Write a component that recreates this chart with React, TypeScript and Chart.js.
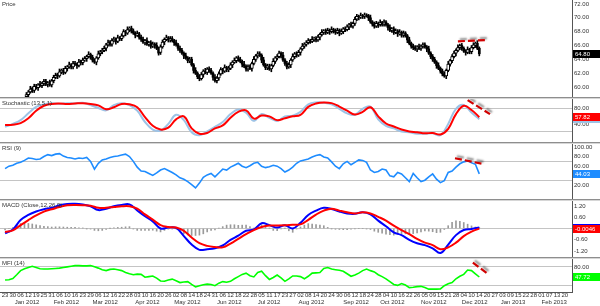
import React, { useEffect, useRef } from "react";
import { Chart, registerables } from "chart.js";

Chart.register(...registerables);

// ---------------- calendar / axis labels ----------------
// trading-day index 0 = 23 Dec 2011; a day tick every 4 trading days
const dayTickStep = 4;
const dayTickLabels = [
  "23", "30", "06", "12", "19", "25", "31", "06", "10", "16", "23", "29", "06", "12", "16", "22", "28",
  "03", "10", "16", "20", "26", "02", "08", "14", "18", "24", "31", "06", "12", "18", "22", "28",
  "05", "11", "17", "23", "27", "02", "08", "14", "20", "24", "30", "06", "12", "18", "24", "28",
  "04", "10", "16", "22", "26", "05", "09", "15", "21", "28", "04", "10", "14", "20", "27",
  "03", "09", "15", "22", "28", "01", "07", "13", "20",
];
const monthLabels = [
  "Jan 2012", "Feb 2012", "Mar 2012", "Apr 2012", "May 2012", "Jun 2012", "Jul 2012",
  "Aug 2012", "Sep 2012", "Oct 2012", "Nov 2012", "Dec 2012", "Jan 2013", "Feb 2013",
];
const monthStartDays = [5, 25, 45, 67, 87, 109, 130, 151, 174, 193, 214, 235, 255, 276];

// ---------------- price candles (daily, from trading day 11) ----------------
const candleFirstDay = 11;
const opens = [
  58.6, 58.9, 59.3, 59.8, 59.5, 60.1, 59.9, 60.4, 60.2, 60.5,
  60.8, 60.4, 60.6, 60.3, 60.9, 61.4, 61.8, 61.6, 62.2, 62.4,
  62.1, 62.7, 62.9, 63.2, 62.9, 63.4, 63.3, 63.1, 63.7, 63.5,
  63.9, 64.1, 64.4, 64.7, 64.3, 63.9, 63.6, 64.2, 64.8, 65.1,
  65.3, 65.6, 66.1, 66.5, 66.2, 66.7, 66.9, 66.6, 67.1, 67.0,
  67.4, 68.0, 67.8, 68.3, 68.5, 68.1, 67.8, 67.5, 67.7, 67.2,
  66.9, 66.5, 66.7, 66.2, 66.4, 65.9, 66.2, 66.0, 65.6, 65.0,
  65.8, 66.5, 66.9, 67.1, 66.8, 67.0, 66.7, 66.4, 66.1, 65.6,
  65.3, 64.9, 64.5, 64.2, 63.8, 64.0, 63.2, 62.4, 62.0, 61.5,
  61.2, 61.8, 62.3, 62.1, 62.6, 62.4, 62.0, 61.4, 60.9, 61.3,
  61.9, 62.5, 62.3, 62.8, 62.5, 62.7, 63.2, 63.6, 63.8, 64.2,
  64.0, 63.7, 63.3, 63.0, 62.6, 62.9, 62.7, 63.4, 64.0, 64.5,
  64.8, 64.6, 63.9, 63.2, 62.8, 63.0, 62.6, 63.1, 63.7, 64.2,
  64.4, 64.9, 64.6, 63.9, 63.4, 62.9, 63.2, 63.9, 64.4, 64.8,
  64.6, 65.0, 65.5, 65.9, 66.2, 66.4, 66.7, 66.6, 66.9, 67.0,
  66.8, 67.2, 67.6, 67.9, 68.1, 67.9, 68.2, 68.0, 68.3, 68.1,
  67.9, 68.2, 67.8, 68.0, 68.4, 68.3, 68.7, 69.0, 68.8, 69.2,
  69.8, 70.2, 70.1, 70.3, 70.2, 70.4, 70.3, 70.0, 69.4, 69.1,
  68.8, 69.2, 69.0, 69.3, 69.1, 69.4, 69.0, 68.6, 68.2, 68.4,
  67.9, 68.1, 67.7, 67.9, 67.5, 67.8, 67.4, 66.8, 66.3, 65.9,
  65.7, 65.5, 65.8, 65.6, 65.9, 66.1, 65.8, 65.5, 64.9, 64.4,
  64.0, 63.6, 63.1, 62.7, 62.3, 61.9, 61.6, 62.4, 63.3, 63.8,
  64.4, 64.9, 65.3, 65.7, 66.0, 65.6, 65.2, 65.0, 65.4, 65.1,
  65.7, 66.1, 66.3, 65.6,
];
const highs = [
  59.2, 59.5, 60.1, 60.0, 60.4, 60.4, 60.5, 60.8, 60.7, 61.1,
  61.1, 60.8, 61.0, 61.1, 61.7, 62.0, 62.0, 62.6, 62.6, 62.7,
  63.0, 63.1, 63.6, 63.4, 63.7, 63.7, 63.5, 64.0, 63.9, 64.2,
  64.4, 64.6, 65.1, 64.9, 64.6, 64.1, 64.4, 65.2, 65.3, 65.6,
  65.9, 66.3, 66.8, 66.7, 67.0, 67.2, 67.1, 67.5, 67.3, 67.7,
  68.3, 68.2, 68.7, 68.7, 68.8, 68.4, 68.0, 68.1, 67.9, 67.5,
  67.2, 66.9, 67.1, 66.6, 66.7, 66.5, 66.4, 66.4, 65.8, 66.1,
  66.8, 67.1, 67.5, 67.3, 67.3, 67.3, 66.9, 66.8, 66.3, 65.9,
  65.6, 65.1, 64.9, 64.4, 64.3, 64.3, 63.4, 62.8, 62.2, 61.8,
  62.1, 62.5, 62.7, 62.8, 62.9, 62.7, 62.2, 61.8, 61.5, 62.2,
  62.8, 62.7, 63.2, 63.0, 63.0, 63.5, 63.8, 64.2, 64.4, 64.5,
  64.3, 63.9, 63.7, 63.2, 63.2, 63.2, 63.6, 64.4, 64.7, 65.1,
  65.1, 64.8, 64.3, 63.4, 63.3, 63.3, 63.3, 64.1, 64.4, 64.7,
  65.2, 65.1, 65.0, 64.1, 63.7, 63.5, 64.1, 64.8, 65.0, 65.1,
  65.3, 65.7, 66.3, 66.4, 66.7, 67.0, 66.9, 67.3, 67.2, 67.3,
  67.5, 67.8, 68.3, 68.3, 68.4, 68.5, 68.4, 68.7, 68.5, 68.4,
  68.5, 68.4, 68.4, 68.6, 68.7, 69.0, 69.2, 69.4, 69.4, 70.1,
  70.5, 70.4, 70.7, 70.5, 70.7, 70.6, 70.5, 70.4, 69.6, 69.4,
  69.5, 69.4, 69.7, 69.5, 69.7, 69.6, 69.2, 69.0, 68.6, 68.7,
  68.4, 68.3, 68.3, 68.1, 68.1, 68.0, 67.6, 67.2, 66.5, 66.2,
  66.0, 66.0, 66.2, 66.1, 66.4, 66.4, 66.0, 65.9, 65.1, 64.7,
  64.3, 63.8, 63.5, 62.9, 62.6, 62.2, 62.6, 63.7, 64.0, 64.7,
  65.2, 65.5, 66.1, 66.2, 66.3, 65.8, 65.4, 65.8, 65.6, 66.0,
  66.4, 66.5, 66.7, 65.8,
];
const lows = [
  58.4, 58.5, 59.1, 59.2, 59.2, 59.7, 59.5, 60.0, 59.9, 60.2,
  60.2, 60.0, 60.1, 60.0, 60.6, 61.2, 61.2, 61.4, 61.9, 61.8,
  61.9, 62.3, 62.7, 62.6, 62.6, 63.1, 62.7, 62.9, 63.2, 63.2,
  63.7, 63.7, 64.2, 64.0, 63.6, 63.4, 63.2, 64.0, 64.5, 64.8,
  65.1, 65.2, 65.9, 65.9, 65.9, 66.5, 66.2, 66.4, 66.7, 66.7,
  67.2, 67.4, 67.6, 68.0, 67.8, 67.6, 67.1, 67.3, 66.9, 66.6,
  66.3, 66.1, 66.0, 65.9, 65.6, 65.7, 65.6, 65.4, 64.6, 64.7,
  65.6, 66.1, 66.7, 66.5, 66.5, 66.5, 66.0, 65.9, 65.3, 65.0,
  64.7, 64.1, 64.0, 63.5, 63.5, 63.0, 62.0, 61.8, 61.2, 60.9,
  61.0, 61.4, 61.9, 61.8, 62.1, 61.8, 61.0, 60.7, 60.6, 61.0,
  61.7, 61.9, 62.1, 62.2, 62.2, 62.5, 62.8, 63.4, 63.5, 63.7,
  63.5, 62.9, 62.8, 62.3, 62.3, 62.5, 62.3, 63.2, 63.7, 64.2,
  64.4, 63.5, 63.0, 62.5, 62.5, 62.4, 62.2, 62.9, 63.4, 63.9,
  64.2, 64.2, 63.7, 63.1, 62.6, 62.7, 62.8, 63.7, 64.1, 64.3,
  64.4, 64.6, 65.3, 65.6, 65.9, 66.2, 66.3, 66.4, 66.6, 66.5,
  66.6, 66.8, 67.4, 67.6, 67.6, 67.7, 67.6, 67.8, 67.8, 67.6,
  67.7, 67.4, 67.6, 67.7, 68.0, 68.1, 68.3, 68.6, 68.5, 68.9,
  69.6, 69.7, 69.9, 69.9, 69.9, 70.1, 69.6, 69.2, 68.8, 68.5,
  68.6, 68.6, 68.8, 68.8, 68.8, 68.8, 68.2, 68.0, 67.9, 67.6,
  67.7, 67.3, 67.5, 67.2, 67.2, 67.2, 66.4, 66.1, 65.6, 65.4,
  65.3, 65.1, 65.4, 65.3, 65.6, 65.6, 65.1, 64.7, 64.1, 63.7,
  63.4, 62.7, 62.5, 62.0, 61.6, 61.4, 61.2, 62.2, 63.0, 63.5,
  64.2, 64.5, 65.1, 65.4, 65.3, 65.0, 64.6, 64.8, 64.8, 64.8,
  65.5, 65.7, 65.4, 64.5,
];
const closes = [
  58.9, 59.3, 59.7, 59.5, 60.1, 59.9, 60.3, 60.2, 60.5, 60.8,
  60.4, 60.6, 60.3, 60.9, 61.4, 61.7, 61.6, 62.2, 62.4, 62.1,
  62.7, 62.9, 63.2, 62.9, 63.4, 63.3, 63.1, 63.6, 63.5, 63.9,
  64.1, 64.4, 64.7, 64.3, 63.9, 63.6, 64.2, 64.8, 65.1, 65.3,
  65.6, 66.1, 66.4, 66.2, 66.7, 66.9, 66.6, 67.1, 67.0, 67.4,
  68.0, 67.8, 68.3, 68.5, 68.1, 67.8, 67.5, 67.7, 67.2, 66.9,
  66.5, 66.7, 66.2, 66.4, 65.9, 66.2, 66.0, 65.6, 64.9, 65.8,
  66.5, 66.9, 67.1, 66.8, 67.0, 66.7, 66.4, 66.1, 65.6, 65.3,
  64.9, 64.5, 64.2, 63.8, 64.0, 63.2, 62.4, 62.0, 61.5, 61.2,
  61.8, 62.3, 62.1, 62.6, 62.4, 62.0, 61.4, 60.9, 61.3, 61.9,
  62.5, 62.3, 62.8, 62.5, 62.7, 63.2, 63.6, 63.8, 64.2, 64.0,
  63.7, 63.3, 63.0, 62.6, 62.9, 62.7, 63.4, 64.0, 64.5, 64.8,
  64.6, 63.9, 63.2, 62.8, 63.0, 62.6, 63.1, 63.7, 64.2, 64.4,
  64.9, 64.6, 63.9, 63.4, 62.9, 63.2, 63.9, 64.4, 64.8, 64.6,
  65.0, 65.5, 65.9, 66.2, 66.4, 66.7, 66.6, 66.9, 67.0, 66.8,
  67.2, 67.6, 67.9, 68.1, 67.9, 68.2, 68.0, 68.3, 68.1, 67.9,
  68.2, 67.8, 68.0, 68.4, 68.3, 68.7, 69.0, 68.8, 69.2, 69.8,
  70.2, 70.1, 70.3, 70.2, 70.4, 70.3, 70.0, 69.4, 69.1, 68.8,
  69.2, 69.0, 69.3, 69.1, 69.4, 69.0, 68.6, 68.2, 68.4, 67.9,
  68.1, 67.7, 67.9, 67.5, 67.8, 67.4, 66.8, 66.3, 65.9, 65.7,
  65.5, 65.8, 65.6, 65.9, 66.1, 65.8, 65.5, 64.9, 64.4, 64.0,
  63.6, 63.1, 62.7, 62.3, 61.9, 61.6, 62.4, 63.3, 63.8, 64.4,
  64.9, 65.3, 65.7, 66.0, 65.6, 65.2, 65.0, 65.4, 65.1, 65.7,
  66.1, 66.3, 65.6, 64.8,
];

// ---------------- indicators sampled every 4 trading days (from day 0) ----------------
const slowStep = 4;
const stochD = [
  37, 38, 42, 55, 75, 88, 93, 94, 93, 94,
  95, 93, 89, 79, 84, 93, 92, 84, 58, 35,
  25, 30, 52, 60, 28, 14, 16, 28, 36, 56,
  72, 76, 54, 62, 60, 50, 55, 60, 64, 85,
  94, 97, 95, 86, 75, 65, 72, 84, 60, 41,
  33, 25, 20, 18, 15, 16, 12, 27, 66, 88,
  77, 57.82,
];
const stochK = [
  32, 40, 50, 68, 85, 92, 95, 93, 95, 94,
  96, 90, 82, 76, 90, 95, 90, 75, 45, 25,
  22, 40, 64, 50, 18, 10, 20, 32, 45, 66,
  78, 70, 48, 66, 56, 48, 60, 62, 72, 92,
  97, 96, 92, 80, 68, 64, 80, 86, 52, 35,
  28, 20, 18, 14, 14, 15, 10, 40, 80, 90,
  70, 52.4,
];
const macdLine = [
  -0.25, -0.05, 0.45, 0.72, 0.9, 1.02, 1.1, 1.23, 1.3, 1.31,
  1.27, 1.18, 0.98, 1.05, 1.18, 1.25, 1.28, 0.96, 0.65, 0.38,
  0.0, 0.05, 0.03, -0.4, -0.85, -1.13, -1.1, -1.05, -0.9, -0.6,
  -0.38, -0.12, -0.05, 0.28, 0.18, 0.05, 0.18, 0.0, 0.3, 0.72,
  0.95, 1.1, 1.04, 0.9, 0.8, 0.78, 0.86, 0.75, 0.42, 0.12,
  -0.2, -0.35, -0.6, -0.78, -0.88, -1.05, -1.3, -0.85, -0.35, -0.08,
  -0.02, 0.05,
];
const macdSignal = [
  -0.18, -0.1, 0.18, 0.45, 0.7, 0.9, 1.02, 1.14, 1.23, 1.25,
  1.24, 1.21, 1.1, 1.1, 1.14, 1.18, 1.18, 1.06, 0.75, 0.47,
  0.18, 0.08, 0.05, -0.12, -0.48, -0.78, -0.92, -0.98, -1.0, -0.8,
  -0.55, -0.3, -0.08, 0.08, 0.16, 0.16, 0.17, 0.2, 0.22, 0.46,
  0.74, 0.95, 1.05, 0.95, 0.86, 0.8, 0.86, 0.8, 0.62, 0.42,
  0.15, -0.08, -0.3, -0.55, -0.75, -0.88, -1.1, -1.0, -0.75, -0.4,
  -0.16, -0.0046,
];

// ---------------- indicators sampled every 2 trading days (from day 0) ----------------
const fastStep = 2;
const rsi = [
  55, 60, 62, 66, 68, 72, 77, 76, 74, 75,
  80, 84, 82, 85, 86, 81, 78, 77, 75, 77,
  76, 78, 70, 54, 66, 73, 75, 78, 80, 81,
  83, 85, 80, 70, 58, 50, 49, 45, 41, 46,
  52, 55, 51, 47, 42, 36, 33, 28, 22, 15,
  25, 37, 42, 45, 38, 46, 54, 52, 58, 62,
  66, 60, 57, 61, 66, 68, 60, 57, 59, 62,
  60, 55, 48, 52, 58, 66, 71, 73, 75, 79,
  82, 84, 79, 77, 69, 60, 55, 65, 70, 63,
  68, 73, 72, 68, 52, 47, 49, 54, 52, 40,
  38, 47, 44, 36, 28, 45, 36, 28, 31, 38,
  44, 33, 26, 30, 47, 50, 58, 65, 69, 71,
  67, 64, 44.03,
];
const mfi = [
  38, 39, 43, 55, 68, 74, 78, 82, 78, 74,
  73, 73, 74, 75, 76, 78, 80, 82, 84, 84,
  83, 83, 84, 80, 76, 71, 68, 72, 73, 71,
  68, 62, 58, 55, 57, 56, 47, 49, 51, 44,
  35, 34, 38, 41, 36, 30, 32, 33, 24, 16,
  20, 23, 25, 24, 20, 28, 33, 31, 34, 42,
  49, 56, 60, 52, 48, 62, 66, 52, 40, 46,
  54, 45, 34, 42, 51, 51, 49, 42, 50, 60,
  61, 62, 75, 78, 73, 71, 69, 66, 58, 50,
  54, 60, 68, 73, 68, 64, 55, 49, 42, 33,
  24, 21, 27, 22, 14, 15, 17, 18, 14, 9,
  9, 9, 10, 20, 26, 30, 42, 50, 56, 70,
  68, 58, 47.72,
];
const macdHist = [
  -0.07, 0.0, 0.05, 0.18, 0.27, 0.28, 0.27, 0.24, 0.2, 0.16,
  0.12, 0.1, 0.08, 0.09, 0.09, 0.08, 0.07, 0.06, 0.06, 0.04,
  0.03, -0.01, -0.03, -0.1, -0.12, -0.1, -0.05, 0.01, 0.04, 0.06,
  0.07, 0.09, 0.1, -0.02, -0.1, -0.1, -0.1, -0.1, -0.09, -0.14,
  -0.18, -0.1, -0.03, -0.02, -0.02, -0.12, -0.28, -0.34, -0.37, -0.37,
  -0.35, -0.28, -0.18, -0.1, -0.07, 0.02, 0.1, 0.18, 0.2, 0.2,
  0.17, 0.18, 0.18, 0.1, 0.03, 0.12, 0.2, 0.1, 0.02, -0.1,
  -0.11, -0.02, 0.01, -0.12, -0.2, -0.02, 0.08, 0.18, 0.26, 0.24,
  0.21, 0.18, 0.15, 0.06, -0.01, -0.04, -0.05, -0.06, -0.06, -0.04,
  -0.02, 0.0, 0.0, -0.02, -0.05, -0.14, -0.2, -0.25, -0.3, -0.33,
  -0.35, -0.3, -0.27, -0.28, -0.3, -0.27, -0.23, -0.18, -0.13, -0.14,
  -0.17, -0.22, -0.2, -0.05, 0.15, 0.33, 0.41, 0.38, 0.32, 0.23,
  0.14, 0.08, 0.05,
];

// ---------------- trend-line annotations: [trading day, value] ----------------
const priceTrend = [[233, 66.6], [248, 66.8]];
const stochTrend = [[238, 103], [249.5, 66]];
const rsiTrend = [[231.5, 76.4], [246, 64.5]];
const mfiTrend = [[240.7, 93.2], [248, 59.5]];

// ---------------- axis ticks / levels ----------------
const priceTicks = [60, 62, 64, 66, 68, 70, 72];
const stochTicks = [40, 60, 80];
const stochLevels = [20, 80];
const rsiTicks = [20, 40, 60, 80, 100];
const rsiLevels = [30, 70];
const macdTicks = [-1.2, -0.6, 0, 0.6, 1.2];
const macdLevels = [0];
const mfiTicks = [80];
const mfiLevels = [20, 80];

// ---------------- layout ----------------
const X_MIN = -2.6;
const X_MAX = 291.7;
const AXIS_W = 28;
const FONT = '"Liberation Sans", Arial, sans-serif';
const PANELS = [
  { key: "price", top: 0, h: 97 },
  { key: "stoch", top: 99, h: 43 },
  { key: "rsi", top: 144, h: 55 },
  { key: "macd", top: 201, h: 56 },
  { key: "mfi", top: 259, h: 47 },
];
const SEPARATORS = [97, 142, 199, 257];

Chart.defaults.font.family = FONT;
Chart.defaults.font.size = 6;

const toPts = (vals: number[], step: number, start = 0) => vals.map((v, i) => ({ x: start + i * step, y: v }));
const trendPts = (arr: number[][]) => arr.map(([x, y]) => ({ x, y }));
const last = (a: number[]) => a[a.length - 1];

function yAxis(min: number, max: number, labelVals: number[], levelVals: number[], digits = 2) {
  return {
    type: "linear",
    position: "right",
    min,
    max,
    beginAtZero: false,
    afterFit: (s: any) => {
      s.width = AXIS_W;
      s.paddingTop = 0;
      s.paddingBottom = 0;
    },
    afterBuildTicks: (s: any) => {
      const vals = Array.from(new Set([...labelVals, ...levelVals])).sort((a, b) => a - b);
      s.ticks = vals.map((v) => ({ value: v }));
    },
    ticks: {
      autoSkip: false,
      padding: 2,
      color: "#333",
      font: { size: 6, family: FONT },
      callback: (v: number) => (labelVals.includes(v) ? v.toFixed(digits) : ""),
    },
    grid: {
      drawTicks: false,
      lineWidth: 1,
      color: (c: any) => (c.tick && levelVals.includes(c.tick.value) ? "#c4c4c4" : "rgba(0,0,0,0)"),
    },
    border: { display: true, color: "#555", width: 1 },
  };
}

const hiddenX = { type: "linear", min: X_MIN, max: X_MAX, offset: false, display: false, grid: { offset: false } };
const bottomX = {
  type: "linear",
  position: "bottom",
  min: X_MIN,
  max: X_MAX,
  offset: false,
  weight: 0,
  afterFit: (s: any) => {
    s.height = 7;
    s.paddingLeft = 0;
    s.paddingRight = 0;
  },
  afterBuildTicks: (s: any) => {
    s.ticks = dayTickLabels.map((_, i) => ({ value: i * dayTickStep }));
  },
  ticks: {
    autoSkip: false,
    maxRotation: 0,
    minRotation: 0,
    padding: 0,
    color: "#333",
    font: { size: 6, family: FONT },
    callback: (_v: number, i: number) => dayTickLabels[i],
  },
  grid: { display: false, drawTicks: false, offset: false },
  border: { display: true, color: "#555", width: 1 },
};
const monthX = {
  type: "linear",
  axis: "x",
  position: "bottom",
  min: X_MIN,
  max: X_MAX,
  offset: false,
  weight: 1,
  afterFit: (s: any) => {
    s.height = 7;
    s.paddingLeft = 0;
    s.paddingRight = 0;
  },
  afterBuildTicks: (s: any) => {
    s.ticks = monthStartDays.map((v) => ({ value: v }));
  },
  ticks: {
    autoSkip: false,
    maxRotation: 0,
    minRotation: 0,
    padding: 0,
    align: "start",
    color: "#333",
    font: { size: 6, family: FONT },
    callback: (_v: number, i: number) => monthLabels[i],
  },
  grid: { display: false, drawTicks: false },
  border: { display: false },
};

const shadowPlugin = {
  id: "trendShadow",
  beforeDatasetDraw(chart: any, args: any) {
    const ds = chart.data.datasets[args.index];
    if (ds.shadowed) {
      const ctx = chart.ctx;
      ctx.save();
      ctx.shadowColor = "rgba(0,0,0,0.45)";
      ctx.shadowBlur = 2;
      ctx.shadowOffsetX = 2;
      ctx.shadowOffsetY = -2;
    }
  },
  afterDatasetDraw(chart: any, args: any) {
    const ds = chart.data.datasets[args.index];
    if (ds.shadowed) chart.ctx.restore();
  },
};

const titlePlugin = (text: string) => ({
  id: "panelTitle",
  afterDraw(chart: any) {
    const ctx = chart.ctx;
    ctx.save();
    ctx.font = `6px ${FONT}`;
    ctx.fillStyle = "#333";
    ctx.textAlign = "left";
    ctx.textBaseline = "top";
    ctx.fillText(text, 2, chart.chartArea.top + 1);
    ctx.restore();
  },
});

const boxesPlugin = (items: { value: number; bg: string; fg: string; text: string }[]) => ({
  id: "valueBoxes",
  afterDraw(chart: any) {
    const ctx = chart.ctx;
    const ys = chart.scales.y;
    const left = chart.chartArea.right + 1;
    ctx.save();
    ctx.font = `6px ${FONT}`;
    ctx.textAlign = "left";
    ctx.textBaseline = "middle";
    for (const it of items) {
      const py = ys.getPixelForValue(it.value);
      ctx.fillStyle = it.bg;
      ctx.fillRect(left, Math.round(py) - 4, chart.width - left, 8);
      ctx.fillStyle = it.fg;
      ctx.fillText(it.text, left + 2, Math.round(py) + 0.5);
    }
    ctx.restore();
  },
});

const lineDs = (data: any[], color: string, width: number, tension: number, order: number) => ({
  type: "line",
  data,
  borderColor: color,
  borderWidth: width,
  pointRadius: 0,
  fill: false,
  tension,
  order,
});

const trendDs = (arr: number[][]) => ({
  type: "line",
  data: trendPts(arr),
  borderColor: "#d00000",
  borderWidth: 2.2,
  borderDash: [7, 3],
  pointRadius: 0,
  fill: false,
  order: 0,
  shadowed: true,
});

function makeChart(canvas: HTMLCanvasElement, datasets: any[], y: any, showX: boolean, title: string, boxes: any[]) {
  const scales: any = { x: showX ? bottomX : hiddenX, y };
  if (showX) scales.xm = monthX;
  return new Chart(canvas, {
    type: "line",
    data: { datasets },
    options: {
      responsive: false,
      maintainAspectRatio: false,
      animation: false,
      devicePixelRatio: 1,
      events: [],
      layout: { padding: 0 },
      plugins: { legend: { display: false }, tooltip: { enabled: false } },
      scales,
    } as any,
    plugins: [shadowPlugin, titlePlugin(title), boxesPlugin(boxes)],
  } as any);
}

export default function App() {
  const canvasRefs = useRef<(HTMLCanvasElement | null)[]>([]);

  useEffect(() => {
    const [cPrice, cStoch, cRsi, cMacd, cMfi] = canvasRefs.current as HTMLCanvasElement[];
    const days = closes.map((_, i) => candleFirstDay + i);
    const wick = days.map((d, i) => ({ x: d, y: [lows[i], highs[i]] }));
    const up = days.filter((_, i) => closes[i] >= opens[i]).map((d) => ({ x: d, y: [opens[d - candleFirstDay], closes[d - candleFirstDay]] }));
    const down = days.filter((_, i) => closes[i] < opens[i]).map((d) => ({ x: d, y: [opens[d - candleFirstDay], closes[d - candleFirstDay]] }));

    const charts: Chart[] = [];

    charts.push(
      makeChart(
        cPrice,
        [
          trendDs(priceTrend),
          { type: "bar", data: up, backgroundColor: "#ffffff", borderColor: "#000", borderWidth: 1, borderSkipped: false, barThickness: 3, grouped: false, order: 1 },
          { type: "bar", data: down, backgroundColor: "#000", borderWidth: 0, barThickness: 2, grouped: false, order: 2 },
          { type: "bar", data: wick, backgroundColor: "#000", borderWidth: 0, barThickness: 1, grouped: false, order: 3 },
        ],
        yAxis(58.55, 72.58, priceTicks, []),
        false,
        "Price",
        [{ value: last(closes), bg: "#000", fg: "#fff", text: last(closes).toFixed(2) }]
      )
    );

    charts.push(
      makeChart(
        cStoch,
        [
          trendDs(stochTrend),
          lineDs(toPts(stochD, slowStep), "#ff0000", 2, 0.4, 1),
          lineDs(toPts(stochK, slowStep), "#9dc3e6", 2, 0.4, 2),
        ],
        yAxis(-8, 106, stochTicks, stochLevels),
        false,
        "Stochastic (13,5,1)",
        [
          { value: last(stochK), bg: "#9dc3e6", fg: "#fff", text: last(stochK).toFixed(2) },
          { value: last(stochD), bg: "#ff0000", fg: "#fff", text: last(stochD).toFixed(2) },
        ]
      )
    );

    charts.push(
      makeChart(
        cRsi,
        [trendDs(rsiTrend), lineDs(toPts(rsi, fastStep), "#1e8cff", 1.6, 0, 1)],
        yAxis(-8, 106, rsiTicks, rsiLevels),
        false,
        "RSI (9)",
        [{ value: last(rsi), bg: "#1e8cff", fg: "#fff", text: last(rsi).toFixed(2) }]
      )
    );

    charts.push(
      makeChart(
        cMacd,
        [
          lineDs(toPts(macdSignal, slowStep), "#ff0000", 2, 0.4, 1),
          lineDs(toPts(macdLine, slowStep), "#0000ff", 2, 0.4, 2),
          { type: "bar", data: toPts(macdHist, fastStep), backgroundColor: "#9a9a9a", borderWidth: 0, barThickness: 1, grouped: false, order: 3 },
        ],
        yAxis(-1.51, 1.46, macdTicks, macdLevels),
        false,
        "MACD (Close,12,26,9)",
        [
          { value: last(macdLine), bg: "#0000ff", fg: "#fff", text: last(macdLine).toFixed(4) },
          { value: last(macdSignal), bg: "#ff0000", fg: "#fff", text: last(macdSignal).toFixed(4) },
        ]
      )
    );

    charts.push(
      makeChart(
        cMfi,
        [trendDs(mfiTrend), lineDs(toPts(mfi, fastStep), "#00ff00", 1.6, 0, 1)],
        yAxis(0, 105, mfiTicks, mfiLevels),
        true,
        "MFI (14)",
        [{ value: last(mfi), bg: "#00ff00", fg: "#fff", text: last(mfi).toFixed(2) }]
      )
    );

    return () => {
      charts.forEach((c) => c.destroy());
    };
  }, []);

  return (
    <div style={{ position: "absolute", left: 0, top: 0, width: 600, height: 306, background: "#fff", overflow: "hidden" }}>
      {PANELS.map((p, i) => (
        <canvas
          key={p.key}
          ref={(el) => {
            canvasRefs.current[i] = el;
          }}
          width={600}
          height={p.h}
          style={{ position: "absolute", left: 0, top: p.top, width: 600, height: p.h, display: "block" }}
        />
      ))}
      {SEPARATORS.map((t) => (
        <div
          key={t}
          style={{ position: "absolute", left: 0, top: t, width: 600, height: 2, background: "linear-gradient(#8e8e8e 50%, #d6d6d6 50%)" }}
        />
      ))}
    </div>
  );
}
